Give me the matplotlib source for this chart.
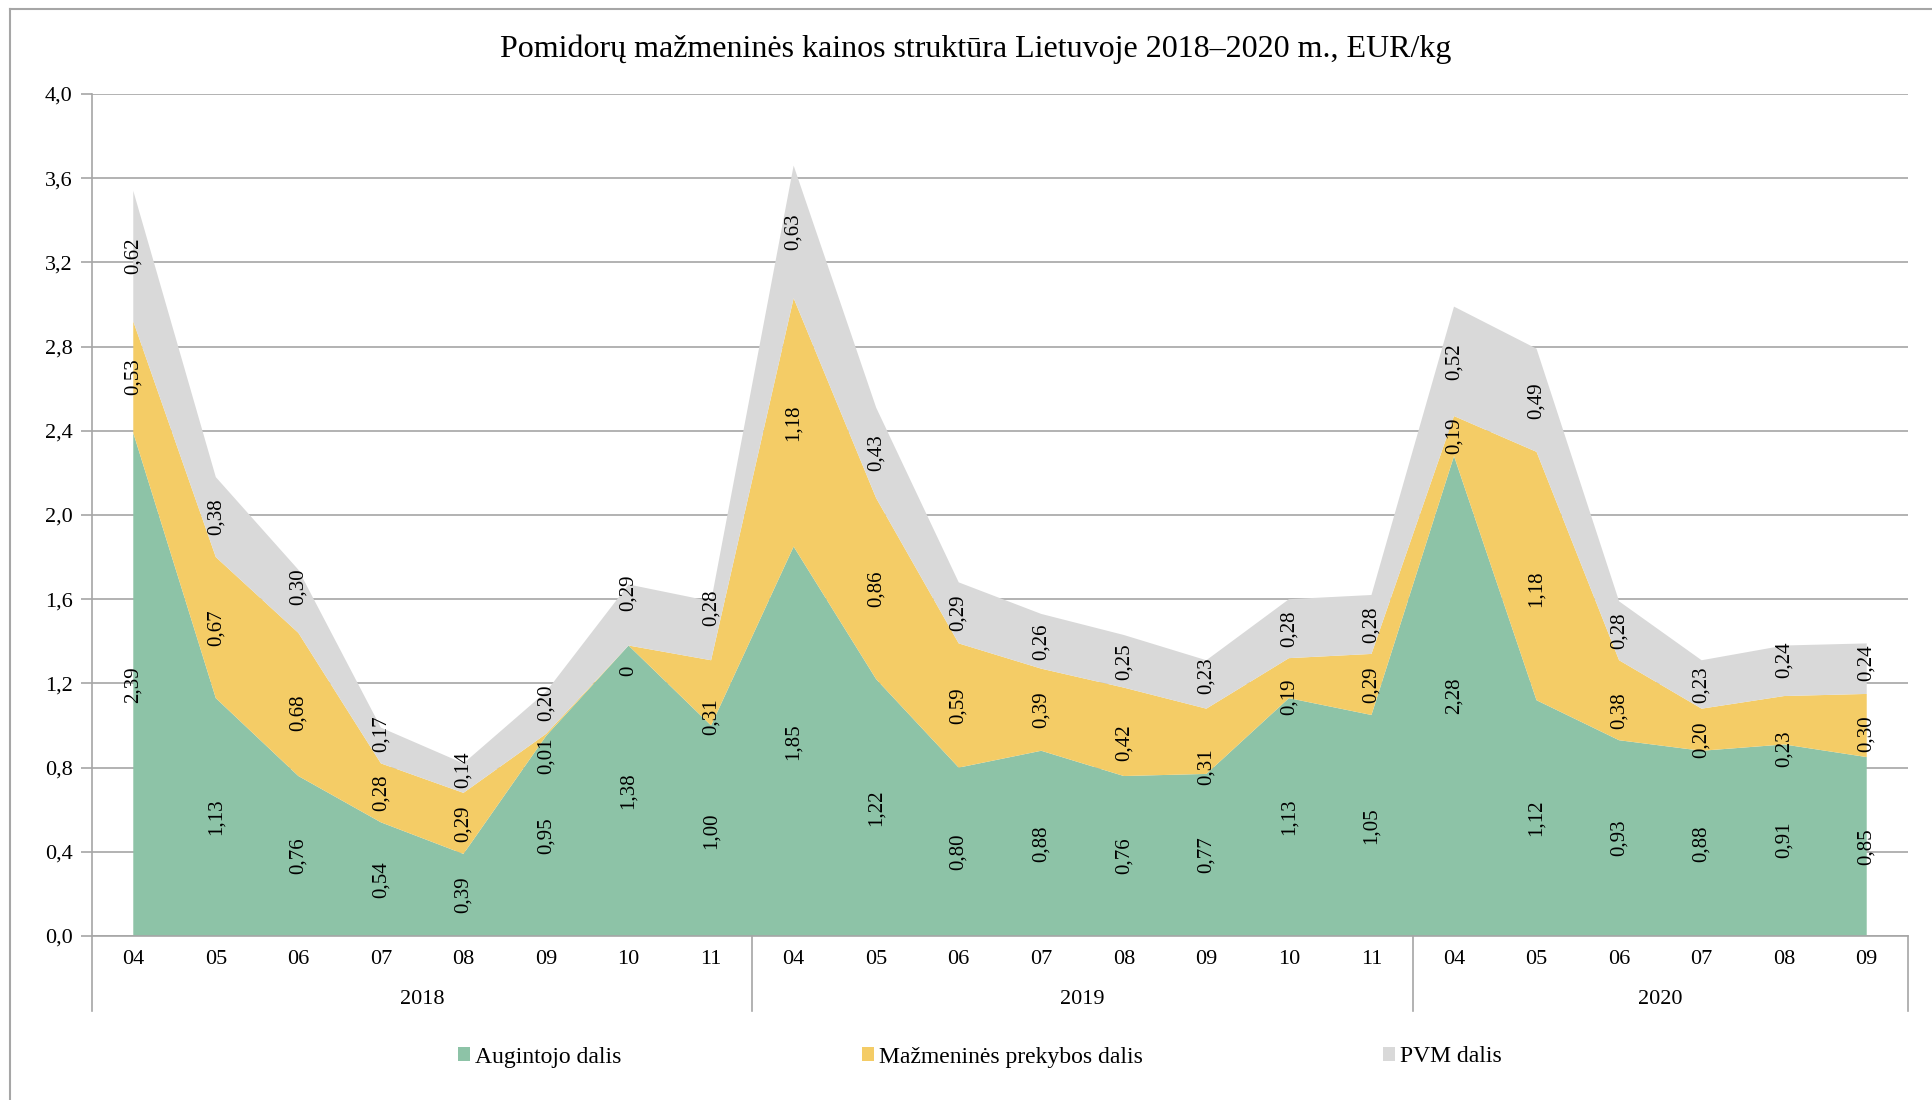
import numpy as np
import matplotlib
matplotlib.use("Agg")
import matplotlib.pyplot as plt
from matplotlib.patches import Patch
from matplotlib.lines import Line2D

# Pomidorų kainos struktūra, EUR/kg
months = ["04", "05", "06", "07", "08", "09", "10", "11",
          "04", "05", "06", "07", "08", "09", "10", "11",
          "04", "05", "06", "07", "08", "09"]
years = ["2018", "2019", "2020"]
year_len = [8, 8, 6]

augintojo = [2.39, 1.13, 0.76, 0.54, 0.39, 0.95, 1.38, 1.00,
             1.85, 1.22, 0.80, 0.88, 0.76, 0.77, 1.13, 1.05,
             2.28, 1.12, 0.93, 0.88, 0.91, 0.85]
mazmenine = [0.53, 0.67, 0.68, 0.28, 0.29, 0.01, 0.00, 0.31,
             1.18, 0.86, 0.59, 0.39, 0.42, 0.31, 0.19, 0.29,
             0.19, 1.18, 0.38, 0.20, 0.23, 0.30]
pvm = [0.62, 0.38, 0.30, 0.17, 0.14, 0.20, 0.29, 0.28,
       0.63, 0.43, 0.29, 0.26, 0.25, 0.23, 0.28, 0.28,
       0.52, 0.49, 0.28, 0.23, 0.24, 0.24]

names = ["Augintojo dalis", "Mažmeninės prekybos dalis", "PVM dalis"]
colors = ["#8DC3A7", "#F4CC66", "#D9D9D9"]

# rankiniai žymų poslinkiai (serija, taškas) -> dy
nudge = {
    (1, 2): -0.04, (1, 5): -0.10, (1, 6): -0.12, (1, 7): -0.115,
    (1, 12): -0.05, (1, 13): -0.12, (1, 14): -0.09, (1, 17): -0.06,
    (1, 18): -0.05, (1, 19): -0.05, (1, 20): -0.135, (1, 21): -0.04,
    (2, 2): 0.07, (2, 3): 0.055, (2, 4): 0.04, (2, 5): 0.05,
    (2, 6): 0.105, (2, 7): 0.11, (2, 13): 0.04, (2, 20): 0.055,
    (2, 21): 0.03,
}

plt.rcParams['font.family'] = ['Liberation Serif', 'DejaVu Serif']

W, H = 1933, 1100
fig = plt.figure(figsize=(W / 100, H / 100), dpi=100)

# rėmelis (kairė ir viršus)
fig.add_artist(Line2D([10 / W, 10 / W], [0, 1 - 9 / H], color="#A6A6A6", lw=1.5))
fig.add_artist(Line2D([10 / W, 1], [1 - 9 / H, 1 - 9 / H], color="#A6A6A6", lw=1.5))

left, right, top, bottom = 92, 1908, 94, 936
ax = fig.add_axes([left / W, 1 - bottom / H, (right - left) / W, (bottom - top) / H])

x = np.arange(len(months))
series = [augintojo, mazmenine, pvm]
ax.stackplot(x, *series, colors=colors, linewidth=0, zorder=2)

ax.set_xlim(-0.5, len(months) - 0.5)
ax.set_ylim(0, 4.0)
yt = np.arange(0, 4.01, 0.4)
ax.set_yticks(yt)
ax.set_yticklabels([f"{v:.1f}".replace(".", ",") for v in yt], fontsize=16)
ax.yaxis.grid(True, color="#A6A6A6", lw=1.2, zorder=0)
ax.set_axisbelow(True)
ax.tick_params(axis="y", length=8, color="#A6A6A6", width=1.2, pad=6)

for s in ["top", "right"]:
    ax.spines[s].set_visible(False)
for s in ["left", "bottom"]:
    ax.spines[s].set_color("#A6A6A6")
    ax.spines[s].set_linewidth(1.2)

# dviejų lygių kategorijų ašis
ax.set_xticks([])
trans = ax.get_xaxis_transform()
for i, m in enumerate(months):
    ax.text(i, -0.0285, m, transform=trans, ha="center", va="center", fontsize=16)
start = 0
bounds = [-0.5]
for y, n in zip(years, year_len):
    ax.text(start + (n - 1) / 2, -0.075, y, transform=trans, ha="center", va="center", fontsize=16)
    start += n
    bounds.append(start - 0.5)
for b in bounds:
    ax.plot([b, b], [0, -0.089], transform=trans, color="#A6A6A6", lw=1.2, clip_on=False)

# reikšmių žymos juostų viduryje
base = np.zeros(len(months))
for k, vals in enumerate(series):
    vals = np.array(vals)
    for i, v in enumerate(vals):
        txt = "0" if v == 0 else f"{v:.2f}".replace(".", ",")
        yy = base[i] + v / 2 + nudge.get((k, i), 0)
        ax.text(i, yy, txt, rotation=90, ha="center", va="center",
                fontsize=15, zorder=5)
    base = base + vals

fig.text(976 / W, 1 - 49 / H, "Pomidorų mažmeninės kainos struktūra Lietuvoje 2018–2020 m., EUR/kg",
         ha="center", va="center", fontsize=23)

handles = [Patch(facecolor=c, edgecolor="none") for c in colors]
fig.legend(handles, names, loc="center", bbox_to_anchor=(980 / W, 1 - 1057 / H), ncol=3,
           frameon=False, fontsize=17, handlelength=0.5, handleheight=0.5,
           handletextpad=0.2, columnspacing=10.2)

fig.savefig("out.png", dpi=100)
